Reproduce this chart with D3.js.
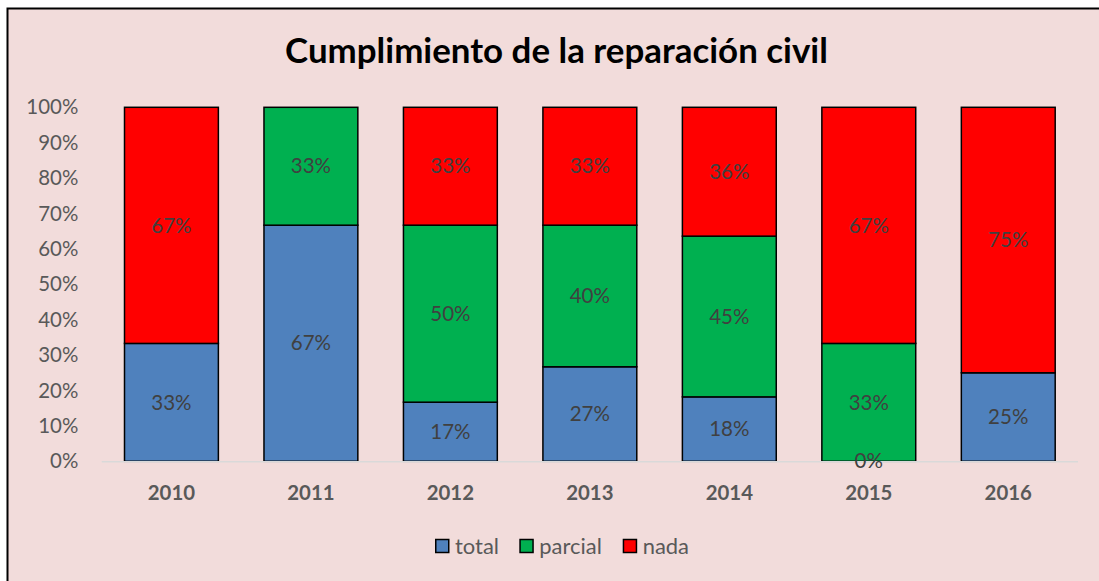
<!DOCTYPE html>
<html><head><meta charset="utf-8">
<script src="https://cdn.jsdelivr.net/npm/d3@7"></script>
<style>
html,body{margin:0;padding:0;background:#fff;}
svg{display:block;}
</style>
</head><body>
<svg id="chart" width="1099" height="581"></svg>
<script>
const years = ["2010","2011","2012","2013","2014","2015","2016"];
const seriesNames = ["total","parcial","nada"];
const totalVals   = [0.333, 0.667, 0.167, 0.267, 0.182, 0,     0.25];
const parcialVals = [null,  0.333, 0.50,  0.40,  0.454, 0.333, null];
const nadaVals    = [0.667, null,  0.333, 0.333, 0.364, 0.667, 0.75];
const yTicks = [0,0.1,0.2,0.3,0.4,0.5,0.6,0.7,0.8,0.9,1.0];
const colors = ["#4f81bd","#00b050","#ff0000"];
const title = "Cumplimiento de la reparación civil";

const svg = d3.select("#chart");
const font = "Lato, 'Open Sans', sans-serif";

// fit a font size so that a reference text reaches a target width
function fitSize(sample, weight, target){
  const t = svg.append("text").attr("font-family",font).attr("font-weight",weight)
    .attr("font-size",20).text(sample);
  const w = t.node().getComputedTextLength();
  t.remove();
  return 20*target/w;
}
const titleSize = fitSize(title,"bold",543);
const tickSize = fitSize("100%","normal",52);
const labelSize = fitSize("33%","normal",40.3);
const catSize = fitSize("2010","bold",47.3);
const legSize = fitSize("total","normal",44);

// chart background + border
svg.append("rect").attr("x",7.5).attr("y",8.5).attr("width",1200).attr("height",700)
  .attr("fill","#f2dcdb").attr("stroke","#000").attr("stroke-width",2);

svg.append("text").attr("x",556.5).attr("y",63.3).attr("text-anchor","middle")
  .attr("font-family",font).attr("font-weight","bold").attr("font-size",titleSize)
  .attr("fill","#000").text(title);

const x = d3.scaleBand().domain(years).range([101.7,1078]).paddingInner(0.327).paddingOuter(0.1635);
const y = d3.scaleLinear().domain([0,1]).range([461.3,107.3]);

// y axis labels
const yAxis = d3.axisLeft(y).tickValues(yTicks).tickFormat(d3.format(".0%")).tickSize(0).tickPadding(0);
const ga = svg.append("g").attr("transform","translate(78.3,0)").call(yAxis);
ga.select(".domain").remove();
ga.selectAll("text").attr("font-family",font).attr("font-size",tickSize).attr("fill","#595959");

// bars
const series = [totalVals, parcialVals, nadaVals];
years.forEach((yr,i)=>{
  let base = 0;
  series.forEach((arr,s)=>{
    const v = arr[i];
    if (v === null) return;
    const y0 = base, y1 = base + v;
    base = y1;
    if (v > 0) {
      svg.append("rect").attr("x",x(yr)).attr("width",x.bandwidth())
        .attr("y",y(Math.min(y1,1))).attr("height",y(y0)-y(Math.min(y1,1)))
        .attr("fill",colors[s]).attr("stroke","#000").attr("stroke-width",1.5);
    }
  });
});

// x axis line
svg.append("line").attr("x1",101.7).attr("x2",1078).attr("y1",461.8).attr("y2",461.8)
  .attr("stroke","#d9d9d9").attr("stroke-width",1.5);

// data labels
years.forEach((yr,i)=>{
  let base = 0;
  series.forEach((arr,s)=>{
    const v = arr[i];
    if (v === null) return;
    const mid = base + v/2;
    base += v;
    svg.append("text").attr("x",x(yr)+x.bandwidth()/2).attr("y",y(mid)).attr("dy","0.35em")
      .attr("text-anchor","middle").attr("font-family",font).attr("font-size",labelSize)
      .attr("fill","#404040").text(d3.format(".0%")(v));
  });
});

// x axis labels
const xAxis = d3.axisBottom(x).tickSize(0).tickPadding(0);
const gx = svg.append("g").attr("transform","translate(0,492.5)").call(xAxis);
gx.select(".domain").remove();
gx.selectAll("text").attr("dy","0.35em").attr("font-family",font).attr("font-size",catSize)
  .attr("font-weight","bold").attr("fill","#595959");

// legend
const legendX = [435, 519.3, 622.7];
seriesNames.forEach((n,s)=>{
  const g = svg.append("g").attr("transform",`translate(${legendX[s]},546)`);
  g.append("rect").attr("x",0.75).attr("y",-6.5).attr("width",13).attr("height",13)
    .attr("fill",colors[s]).attr("stroke","#000").attr("stroke-width",1.5);
  g.append("text").attr("x",20).attr("y",0).attr("dy","0.35em")
    .attr("font-family",font).attr("font-size",legSize).attr("fill","#595959").text(n);
});
</script>
</body></html>
